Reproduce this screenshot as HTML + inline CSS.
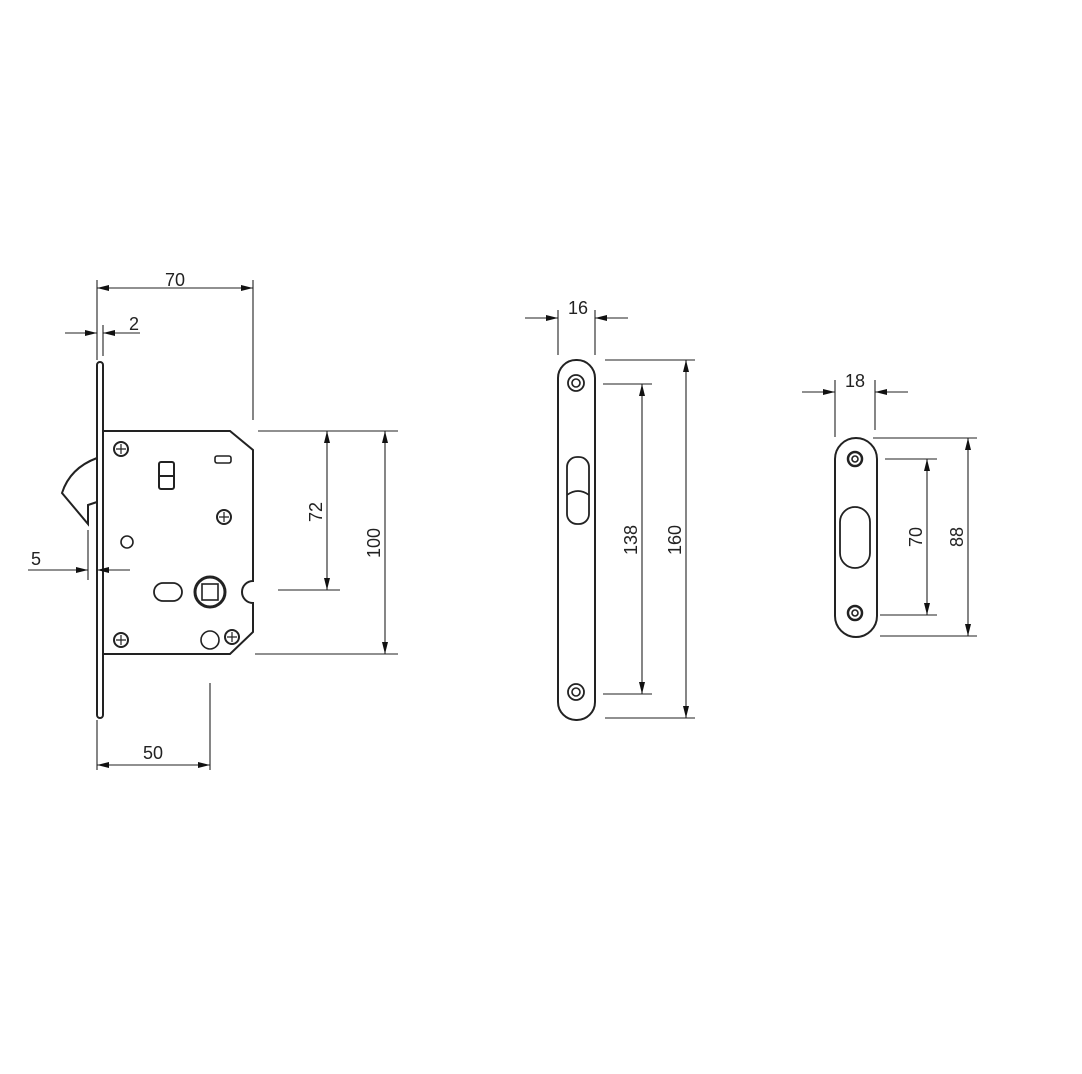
<!DOCTYPE html>
<html><head><meta charset="utf-8"><style>
html,body{margin:0;padding:0;background:#fff;width:1082px;height:1074px;overflow:hidden}
svg{display:block}
text{font-family:"Liberation Sans",sans-serif;font-size:18px;fill:#222}
</style></head><body>
<svg width="1082" height="1074" viewBox="0 0 1082 1074" xmlns="http://www.w3.org/2000/svg">
<defs>
<marker id="a" viewBox="0 0 12 6" refX="12" refY="3" markerWidth="12" markerHeight="6" orient="auto-start-reverse" markerUnits="userSpaceOnUse"><path d="M0,0 L12,3 L0,6 z" fill="#111"/></marker>
</defs>
<g stroke="#222" stroke-width="1.1" fill="none">
<!-- Lock 1 faceplate -->
<rect x="97" y="362" width="6" height="356" rx="3" stroke-width="2"/>
<path d="M103,431 H230 L253,450 V581 A11,11 0 0 0 253,603 V632 L230,654 H103" stroke-width="2"/>
<path d="M97,458 Q70,468 62,493 L88,524 V505 L97,502" stroke-width="2"/>
<g stroke-width="2">
<circle cx="121" cy="449" r="7"/><circle cx="224" cy="517" r="7"/><circle cx="121" cy="640" r="7"/><circle cx="232" cy="637" r="7"/>
</g>
<g stroke-width="1.2">
<path d="M116,449h10M121,444v10M219,517h10M224,512v10M116,640h10M121,635v10M227,637h10M232,632v10"/>
</g>
<rect x="159" y="462" width="15" height="27" rx="2" stroke-width="2"/><path d="M159,476h15" stroke-width="2"/>
<rect x="215" y="456" width="16" height="7" rx="2" stroke-width="1.6"/>
<circle cx="127" cy="542" r="6" stroke-width="1.6"/>
<rect x="154" y="583" width="28" height="18" rx="9" stroke-width="1.8"/>
<circle cx="210" cy="592" r="15" stroke-width="3"/>
<rect x="202" y="584" width="16" height="16" stroke-width="1.6"/>
<circle cx="210" cy="640" r="9" stroke-width="1.6"/>
<!-- dims lock1 -->
<path d="M97,280V360M253,280V420M97,325V356M103,325V356M88,530V580M210,683V770M97,720V770"/>
<path d="M97,288H253" marker-start="url(#a)" marker-end="url(#a)"/>
<path d="M65,333H97" marker-end="url(#a)"/><path d="M140,333H103" marker-end="url(#a)"/>
<path d="M28,570H88" marker-end="url(#a)"/><path d="M130,570H97" marker-end="url(#a)"/>
<path d="M97,765H210" marker-start="url(#a)" marker-end="url(#a)"/>
<path d="M262,431H340M278,590H340M258,431H398M255,654H398"/>
<path d="M327,431V590" marker-start="url(#a)" marker-end="url(#a)"/>
<path d="M385,431V654" marker-start="url(#a)" marker-end="url(#a)"/>
<!-- plate 2 -->
<rect x="558" y="360" width="37" height="360" rx="18" stroke-width="2"/>
<circle cx="576" cy="383" r="8" stroke-width="1.8"/><circle cx="576" cy="383" r="4" stroke-width="1.6"/>
<circle cx="576" cy="692" r="8" stroke-width="1.8"/><circle cx="576" cy="692" r="4" stroke-width="1.6"/>
<rect x="567" y="457" width="22" height="67" rx="10" stroke-width="1.8"/><path d="M567,495 Q578,487 589,495" stroke-width="1.6"/>
<path d="M558,310V355M595,310V355"/>
<path d="M525,318H558" marker-end="url(#a)"/><path d="M628,318H595" marker-end="url(#a)"/>
<path d="M603,384H652M603,694H652M605,360H695M605,718H695"/>
<path d="M642,384V694" marker-start="url(#a)" marker-end="url(#a)"/>
<path d="M686,360V718" marker-start="url(#a)" marker-end="url(#a)"/>
<!-- plate 3 -->
<rect x="835" y="438" width="42" height="199" rx="21" stroke-width="2"/>
<circle cx="855" cy="459" r="7" stroke-width="2.5"/><circle cx="855" cy="459" r="3" stroke-width="1.6"/>
<circle cx="855" cy="613" r="7" stroke-width="2.5"/><circle cx="855" cy="613" r="3" stroke-width="1.6"/>
<rect x="840" y="507" width="30" height="61" rx="15" stroke-width="1.8"/>
<path d="M835,380V437M875,380V430"/>
<path d="M802,392H835" marker-end="url(#a)"/><path d="M908,392H875" marker-end="url(#a)"/>
<path d="M885,459H937M880,615H937M873,438H977M880,636H977"/>
<path d="M927,459V615" marker-start="url(#a)" marker-end="url(#a)"/>
<path d="M968,438V636" marker-start="url(#a)" marker-end="url(#a)"/>
</g>
<text x="175" y="286" text-anchor="middle">70</text>
<text x="134" y="330" text-anchor="middle">2</text>
<text x="36" y="565" text-anchor="middle">5</text>
<text x="153" y="759" text-anchor="middle">50</text>
<text transform="translate(322,512) rotate(-90)" text-anchor="middle">72</text>
<text transform="translate(380,543) rotate(-90)" text-anchor="middle">100</text>
<text x="578" y="314" text-anchor="middle">16</text>
<text transform="translate(637,540) rotate(-90)" text-anchor="middle">138</text>
<text transform="translate(681,540) rotate(-90)" text-anchor="middle">160</text>
<text x="855" y="387" text-anchor="middle">18</text>
<text transform="translate(922,537) rotate(-90)" text-anchor="middle">70</text>
<text transform="translate(963,537) rotate(-90)" text-anchor="middle">88</text>
</svg>
</body></html>
